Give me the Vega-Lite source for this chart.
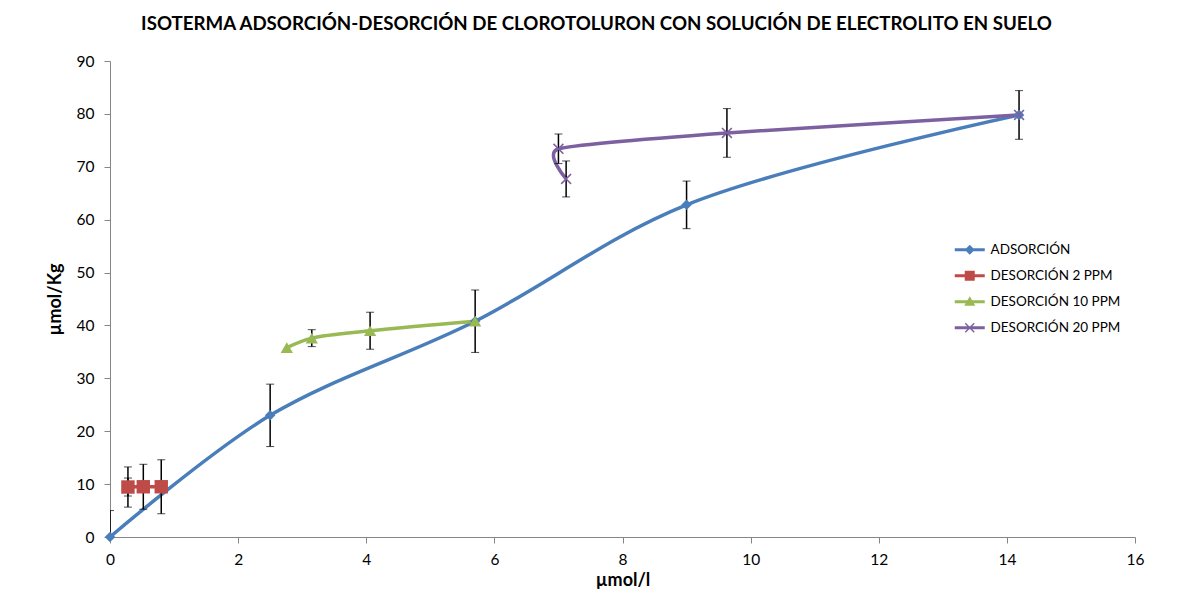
{
  "$schema": "https://vega.github.io/schema/vega-lite/v6.json",
  "autosize": {"type": "none"},
  "width": 1025,
  "height": 476,
  "padding": {"left": 110, "top": 61, "right": 45, "bottom": 69},
  "background": "white",
  "config": {
    "font": "Lato",
    "view": {"stroke": null},
    "axis": {"domainColor": "#868686", "tickColor": "#868686", "grid": false, "labelColor": "black", "labelFontSize": 15.5, "titleColor": "black", "titleFontWeight": "bold", "titleFontSize": 18, "tickSize": 6, "labelFlush": false}
  },
  "title": {"text": "ISOTERMA ADSORCIÓN-DESORCIÓN DE CLOROTOLURON CON SOLUCIÓN DE ELECTROLITO EN SUELO", "fontSize": 18.7, "fontWeight": "bold", "color": "black", "anchor": "middle", "frame": "group", "dx": -26, "offset": 20},
  "datasets": {
    "series": [
      {"serie": "ADSORCIÓN", "x": 0, "y": 0, "ord": 1},
      {"serie": "ADSORCIÓN", "x": 2.5, "y": 23.0, "ord": 2},
      {"serie": "ADSORCIÓN", "x": 5.7, "y": 40.8, "ord": 3},
      {"serie": "ADSORCIÓN", "x": 9.0, "y": 62.8, "ord": 4},
      {"serie": "ADSORCIÓN", "x": 14.19, "y": 79.8, "ord": 5},
      {"serie": "DESORCIÓN 2 PPM", "x": 0.28, "y": 9.45, "ord": 1},
      {"serie": "DESORCIÓN 2 PPM", "x": 0.52, "y": 9.5, "ord": 2},
      {"serie": "DESORCIÓN 2 PPM", "x": 0.8, "y": 9.5, "ord": 3},
      {"serie": "DESORCIÓN 10 PPM", "x": 2.76, "y": 35.8, "ord": 1},
      {"serie": "DESORCIÓN 10 PPM", "x": 3.15, "y": 37.6, "ord": 2},
      {"serie": "DESORCIÓN 10 PPM", "x": 4.06, "y": 39.0, "ord": 3},
      {"serie": "DESORCIÓN 10 PPM", "x": 5.7, "y": 40.8, "ord": 4},
      {"serie": "DESORCIÓN 20 PPM", "x": 7.12, "y": 67.7, "ord": 1},
      {"serie": "DESORCIÓN 20 PPM", "x": 7.0, "y": 73.4, "ord": 2},
      {"serie": "DESORCIÓN 20 PPM", "x": 9.63, "y": 76.4, "ord": 3},
      {"serie": "DESORCIÓN 20 PPM", "x": 14.19, "y": 79.8, "ord": 4}
    ],
    "errors": [
      {"x": 0, "y": 0, "err": 5.0},
      {"x": 2.5, "y": 23.0, "err": 5.9},
      {"x": 5.7, "y": 40.8, "err": 5.9},
      {"x": 9.0, "y": 62.8, "err": 4.5},
      {"x": 14.19, "y": 79.8, "err": 4.6},
      {"x": 0.28, "y": 9.45, "err": 3.8},
      {"x": 0.28, "y": 9.45, "err": 1.7},
      {"x": 0.52, "y": 9.5, "err": 4.25},
      {"x": 0.8, "y": 9.5, "err": 5.1},
      {"x": 3.15, "y": 37.6, "err": 1.6},
      {"x": 4.06, "y": 39.0, "err": 3.5},
      {"x": 7.0, "y": 73.4, "err": 2.8},
      {"x": 7.12, "y": 67.7, "err": 3.4},
      {"x": 9.63, "y": 76.4, "err": 4.6}
    ]
  },
  "encoding": {
    "x": {"field": "x", "type": "quantitative", "scale": {"domain": [0, 16], "nice": false, "zero": false}, "axis": {"values": [0, 2, 4, 6, 8, 10, 12, 14, 16], "format": "d", "title": "µmol/l", "titlePadding": 4, "labelPadding": 9}},
    "y": {"field": "y", "type": "quantitative", "scale": {"domain": [0, 90], "nice": false}, "axis": {"values": [0, 10, 20, 30, 40, 50, 60, 70, 80, 90], "format": "d", "title": "µmol/Kg", "titlePadding": 12, "labelPadding": 10}}
  },
  "layer": [
    {
      "data": {"name": "series"},
      "transform": [{"filter": "datum.serie != 'DESORCIÓN 20 PPM'"}],
      "mark": {"type": "line", "interpolate": "catmull-rom", "strokeWidth": 3.5},
      "encoding": {
        "color": {"field": "serie", "type": "nominal", "scale": {"domain": ["ADSORCIÓN", "DESORCIÓN 2 PPM", "DESORCIÓN 10 PPM", "DESORCIÓN 20 PPM"], "range": ["#4A7EBB", "#BE4B48", "#98B954", "#7D60A0"]}, "legend": {"title": null, "orient": "none", "legendX": 853, "legendY": 182, "labelFontSize": 13.5, "labelColor": "black", "symbolSize": 100, "rowPadding": 11, "labelOffset": 14, "symbolStrokeWidth": 0,
          "encode": {"symbols": {"update": {"shape": {"signal": "datum.value == 'ADSORCIÓN' ? 'M-3,-0.3L3,-0.3L3,0.3L-3,0.3Z M0,-1L1,0L0,1L-1,0Z' : datum.value == 'DESORCIÓN 2 PPM' ? 'M-3,-0.3L3,-0.3L3,0.3L-3,0.3Z M-1,-1L1,-1L1,1L-1,1Z' : datum.value == 'DESORCIÓN 10 PPM' ? 'M-3,-0.3L3,-0.3L3,0.3L-3,0.3Z M0,-1.1L1.1,0.8L-1.1,0.8Z' : 'M-3,-0.3L3,-0.3L3,0.3L-3,0.3Z M-1,-0.8L-0.8,-1L0,-0.2L0.8,-1L1,-0.8L0.2,0L1,0.8L0.8,1L0,0.2L-0.8,1L-1,0.8L-0.2,0Z'"}, "fill": {"scale": "color", "field": "value"}, "fillOpacity": {"value": 1}}}}}},
        "order": {"field": "ord", "type": "quantitative"}
      }
    },
    {
      "data": {"name": "series"},
      "transform": [{"filter": "datum.serie == 'DESORCIÓN 20 PPM'"}],
      "mark": {"type": "line", "interpolate": "cardinal", "tension": 0.45, "strokeWidth": 3.5},
      "encoding": {
        "color": {"field": "serie", "type": "nominal"},
        "order": {"field": "ord", "type": "quantitative"}
      }
    },
    {
      "data": {"name": "errors"},
      "mark": {"type": "errorbar", "clip": true, "ticks": {"size": 8, "color": "black", "strokeWidth": 1.5}, "rule": {"color": "black", "strokeWidth": 1.5}},
      "encoding": {
        "yError": {"field": "err"}
      }
    },
    {
      "data": {"name": "series"},
      "transform": [{"filter": "datum.serie == 'ADSORCIÓN'"}],
      "mark": {"type": "point", "filled": true, "opacity": 1, "shape": "diamond", "size": 110, "color": "#4A7EBB"}
    },
    {
      "data": {"name": "series"},
      "transform": [{"filter": "datum.serie == 'DESORCIÓN 2 PPM'"}],
      "mark": {"type": "point", "filled": true, "opacity": 1, "shape": "square", "size": 180, "color": "#BE4B48"}
    },
    {
      "data": {"name": "series"},
      "transform": [{"filter": "datum.serie == 'DESORCIÓN 10 PPM'"}],
      "mark": {"type": "point", "filled": true, "opacity": 1, "shape": "triangle-up", "size": 150, "color": "#98B954"}
    },
    {
      "data": {"name": "series"},
      "transform": [{"filter": "datum.serie == 'DESORCIÓN 20 PPM'"}],
      "mark": {"type": "point", "filled": true, "opacity": 1, "shape": "M-1,-0.8L-0.8,-1L0,-0.2L0.8,-1L1,-0.8L0.2,0L1,0.8L0.8,1L0,0.2L-0.8,1L-1,0.8L-0.2,0Z", "size": 120, "color": "#7D60A0"}
    }
  ]
}
